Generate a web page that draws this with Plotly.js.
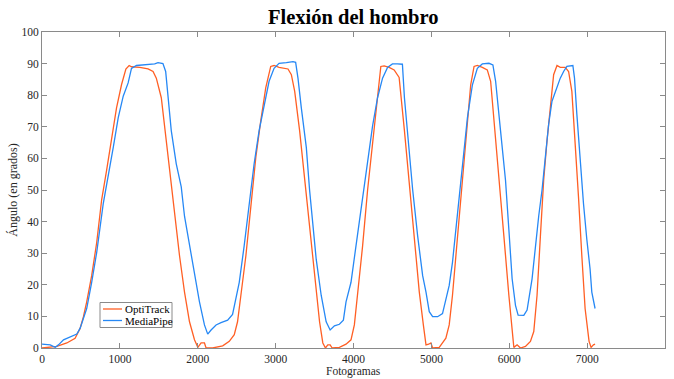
<!DOCTYPE html>
<html>
<head>
<meta charset="utf-8">
<script src="https://cdn.plot.ly/plotly-3.0.1.min.js"></script>
<style>html,body{margin:0;padding:0;background:#fff;}#chart{width:674px;height:379px;}</style>
</head>
<body>
<div id="chart"></div>
<script>
const optiX = [0,191,319,425,489,532,574,638,702,766,830,893,957,1021,1077,1119,1149,1256,1362,1426,1468,1532,1575,1639,1703,1766,1830,1894,1958,2001,2043,2086,2107,2192,2320,2405,2469,2511,2554,2618,2682,2746,2809,2873,2937,2980,3044,3159,3202,3245,3308,3372,3436,3500,3564,3606,3640,3670,3700,3726,3819,3904,3968,4011,4053,4117,4181,4245,4309,4351,4394,4458,4522,4586,4654,4718,4782,4845,4897,4931,4965,4994,5016,5101,5186,5229,5271,5335,5399,5463,5505,5548,5590,5654,5718,5761,5803,5867,5931,5995,6037,6059,6101,6144,6208,6272,6315,6357,6400,6442,6485,6527,6570,6613,6655,6719,6762,6804,6847,6889,6932,6974,7025,7051,7081,7102];
const optiY = [0,0.5,1.6,3.1,6.2,9.9,14.6,22.9,33.3,46.9,56.3,65.6,76,83.3,88.3,89.4,89,88.8,88.3,87.5,85.4,79.2,69.8,56.3,41.7,29.2,17.7,8.3,2.6,0.2,1.6,1.6,0,0,0.7,2.1,4.2,8.3,16.7,29.2,44.8,60.4,71.9,82.3,89.1,89.4,88.8,88.3,86.5,81.2,68.8,53.1,37.5,21.9,8.3,1.6,0,1,1,0,0.2,1.2,2.6,7.3,16.7,32.3,50,65.6,80.2,89.1,89.3,88.8,88,85.6,68.8,51,33.3,17.7,7.3,1,1.2,1.6,0,0.2,3.1,7.3,16.7,35.4,54.2,70.8,83.3,89.1,89.4,88.8,88,84.4,72.9,55.2,35.4,16.7,4.2,0.2,1,0,0.5,2.1,5.2,16.7,35.4,53.1,65.6,77.1,86.5,89.4,88.8,88.8,87.5,81.2,65.6,47.9,29.2,12.5,2.1,0.2,1,1.2];

const mediaX = [0,106,170,212,276,361,447,489,532,574,638,702,787,851,915,979,1043,1106,1149,1213,1298,1383,1447,1490,1553,1588,1617,1660,1724,1788,1830,1894,1958,2022,2086,2128,2171,2235,2299,2384,2447,2490,2533,2596,2660,2724,2788,2852,2916,2980,3044,3138,3223,3257,3287,3330,3394,3436,3479,3521,3585,3649,3700,3755,3819,3870,3904,3968,4032,4096,4160,4224,4245,4309,4373,4437,4500,4564,4628,4654,4696,4760,4824,4888,4931,4973,5016,5080,5143,5177,5229,5271,5335,5399,5463,5527,5590,5654,5739,5790,5825,5888,5952,5995,6037,6080,6114,6187,6229,6293,6336,6378,6421,6464,6506,6549,6591,6655,6698,6740,6817,6838,6868,6911,6953,6996,7038,7060,7102];
const mediaY = [1.2,1,0.2,1,2.6,3.6,4.4,6.2,9.6,12.5,20.8,30.2,45.8,54.2,63.5,72.9,79.7,83.9,88.5,89.4,89.6,89.8,89.9,90.3,90,87.5,79.2,68.8,58.3,51,41.7,32.3,22.9,14.6,7.3,4.4,5.7,7.3,8,8.8,10.6,15.6,20.8,32.3,45.8,58.3,68.8,77.1,84.4,88.5,90.1,90.3,90.6,90.4,85.4,76,63.5,50,37.5,28.1,16.7,8.3,5.7,7,7.5,8.8,14.6,20.8,32.3,43.8,56.3,67.7,70.3,79.2,85.4,88.8,89.9,89.9,89.8,79.2,66.7,50,35.4,22.9,17.7,11.5,9.9,9.9,10.9,14.6,19.8,27.1,41.7,58.3,72.9,83.3,88.5,89.9,90.1,89.6,84.4,68.8,53.1,37.5,21.9,13.5,10.4,10.3,12,21.9,32.3,41.7,50,60.4,70.8,78.1,81.2,85.4,87.5,89.1,89.4,85.4,74,58.3,45.8,34.4,25,17.7,12.5];

const seriesNames = ['OptiTrack','MediaPipe'];
const seriesColors = ['#ff5f24','#2688f5'];
const xTicks = [0,1000,2000,3000,4000,5000,6000,7000,8000];
const yTicks = [0,10,20,30,40,50,60,70,80,90,100];
const xTitle = 'Fotogramas';
const yTitle = 'Ángulo (en grados)';
const chartTitle = 'Flexión del hombro';

const serif = '"Liberation Serif", "Times New Roman", serif';
const axisColor = '#8a8a8a';
const textColor = '#262626';

const traces = [
  {x: optiX, y: optiY, name: seriesNames[0], type: 'scatter', mode: 'lines',
   line: {color: seriesColors[0], width: 1.3}},
  {x: mediaX, y: mediaY, name: seriesNames[1], type: 'scatter', mode: 'lines',
   line: {color: seriesColors[1], width: 1.3}}
];

const axisCommon = {
  showgrid: false, zeroline: false, showline: true, linecolor: axisColor, linewidth: 1,
  mirror: 'ticks', ticks: 'inside', ticklen: 5, tickcolor: axisColor, tickwidth: 1,
  tickfont: {family: serif, size: 11.5, color: textColor}
};

// Compact MATLAB-style legend (box, line samples, labels) in paper coordinates
const plotL = 42, plotR = 665, plotT = 32, plotB = 348;
const px = v => (v - plotL) / (plotR - plotL);
const py = v => (plotB - v) / (plotB - plotT);
const legendRows = [309, 320.5];
const shapes = [
  {type: 'rect', xref: 'paper', yref: 'paper', x0: px(100), x1: px(172), y0: py(327.5), y1: py(302.5),
   line: {color: '#8a8a8a', width: 1}, fillcolor: '#fff', layer: 'above'}
];
const annotations = [];
seriesNames.forEach((n, i) => {
  shapes.push({type: 'line', xref: 'paper', yref: 'paper', x0: px(103), x1: px(122),
               y0: py(legendRows[i]), y1: py(legendRows[i]),
               line: {color: seriesColors[i], width: 1.3}, layer: 'above'});
  annotations.push({xref: 'paper', yref: 'paper', x: px(123), y: py(legendRows[i]),
                    xanchor: 'left', yanchor: 'middle', showarrow: false, text: n,
                    font: {family: serif, size: 11, color: '#000'}});
});
// x-axis title placed just under the tick labels, near the bottom edge as in the reference
annotations.push({xref: 'paper', yref: 'paper', x: 0.5, y: 0, yshift: -16, xanchor: 'center', yanchor: 'top',
                  showarrow: false, text: xTitle, borderpad: 0,
                  font: {family: serif, size: 11.5, color: textColor}});

const layout = {
  width: 674, height: 379,
  margin: {l: 42, r: 9, t: 32, b: 31},
  paper_bgcolor: '#fff', plot_bgcolor: '#fff',
  title: {text: '<b>' + chartTitle + '</b>', font: {family: serif, size: 20.5, color: '#000'},
          x: 0.524, xanchor: 'center', y: 0.955, yanchor: 'middle'},
  xaxis: Object.assign({}, axisCommon, {
    range: [0, 8000], tickvals: xTicks, ticktext: xTicks.map(String)
  }),
  yaxis: Object.assign({}, axisCommon, {
    range: [0, 100], tickvals: yTicks, ticktext: yTicks.map(String),
    title: {text: yTitle, font: {family: serif, size: 12, color: textColor}, standoff: 1}
  }),
  showlegend: false,
  shapes: shapes,
  annotations: annotations
};

Plotly.newPlot('chart', traces, layout, {displayModeBar: false, staticPlot: true});
</script>
</body>
</html>
